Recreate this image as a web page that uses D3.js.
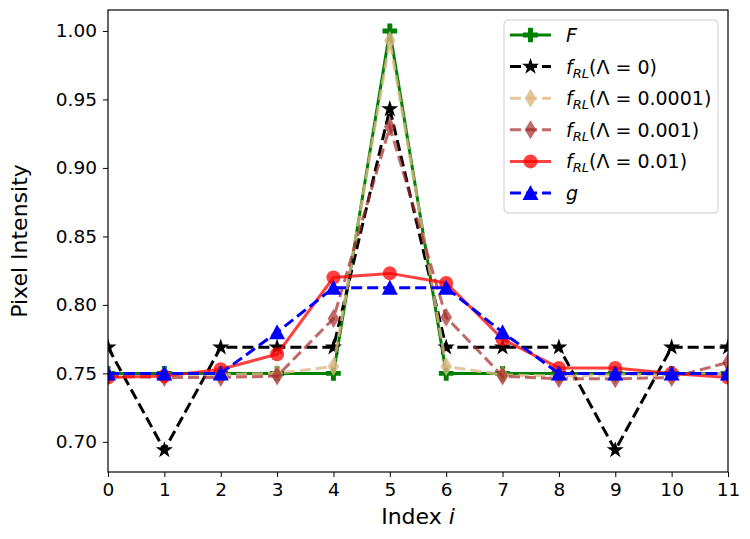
<!DOCTYPE html>
<html>
<head>
<meta charset="utf-8">
<script src="https://cdn.jsdelivr.net/npm/d3@7"></script>
<style>
  body { margin: 0; background: #fff; }
  text { font-family: "DejaVu Sans", sans-serif; }
</style>
</head>
<body>
<svg id="chart" width="750" height="539"></svg>
<script>
// values
const index = [0, 1, 2, 3, 4, 5, 6, 7, 8, 9, 10, 11]
const F     = [0.75, 0.75, 0.75, 0.75, 0.75, 1.0, 0.75, 0.75, 0.75, 0.75, 0.75, 0.75]
const fRL0  = [0.769, 0.694, 0.769, 0.769, 0.769, 0.943, 0.769, 0.769, 0.769, 0.694, 0.769, 0.769]
const fRL4  = [0.749, 0.749, 0.749, 0.750, 0.755, 0.993, 0.755, 0.749, 0.748, 0.749, 0.749, 0.750]
const fRL3  = [0.748, 0.747, 0.747, 0.748, 0.790, 0.930, 0.791, 0.748, 0.746, 0.746, 0.747, 0.758]
const fRL2  = [0.747, 0.748, 0.753, 0.764, 0.820, 0.823, 0.816, 0.775, 0.754, 0.754, 0.750, 0.747]
const g     = [0.75, 0.75, 0.75, 0.780, 0.8125, 0.8125, 0.8125, 0.780, 0.75, 0.75, 0.75, 0.75]
const yTicks = [0.70, 0.75, 0.80, 0.85, 0.90, 0.95, 1.00]

const series = [
  { label: 'F',      values: F,    color: 'green',     alpha: 1,   dash: null, marker: 'plus' },
  { label: '0',      values: fRL0, color: 'black',     alpha: 1,   dash: '11,5', marker: 'star' },
  { label: '0.0001', values: fRL4, color: '#deb887',   alpha: 0.8, dash: '11,5', marker: 'diamond' },
  { label: '0.001',  values: fRL3, color: '#a52a2a',   alpha: 0.7, dash: '11,5', marker: 'diamond' },
  { label: '0.01',   values: fRL2, color: 'red',       alpha: 0.75, dash: null, marker: 'circle' },
  { label: 'g',      values: g,    color: 'blue',      alpha: 1,   dash: '11,5', marker: 'triangle' }
]

const margin = { left: 108, right: 22, top: 10, bottom: 67 }
const W = 750, H = 539

const x = d3.scaleLinear().domain([0, 11]).range([margin.left, W - margin.right])
const y = d3.scaleLinear().domain([0.678, 1.0153]).range([H - margin.bottom, margin.top])

const svg = d3.select('#chart')

function markerPath(type) {
  if (type === 'plus') return d3.symbol(d3.symbolCross, 120)()
  if (type === 'star') return d3.symbol(d3.symbolStar, 90)()
  if (type === 'circle') return d3.symbol(d3.symbolCircle, 155)()
  if (type === 'triangle') return 'M0,-8L8,7L-8,7Z'
  if (type === 'diamond') return 'M0,-9.5L5.8,0L0,9.5L-5.8,0Z'
}

// axes
const xAxis = d3.axisBottom(x).tickValues(index).tickSize(5).tickPadding(6)
const yAxis = d3.axisLeft(y).tickValues(yTicks).tickFormat(d3.format('.2f')).tickSize(5).tickPadding(6)

const plot = svg.append('g')
plot.append('defs').append('clipPath').attr('id', 'clip')
  .append('rect')
  .attr('x', margin.left).attr('y', margin.top)
  .attr('width', W - margin.left - margin.right)
  .attr('height', H - margin.top - margin.bottom)

const line = d3.line().x((d, i) => x(index[i])).y(d => y(d))

series.forEach(s => {
  const grp = plot.append('g').attr('clip-path', 'url(#clip)')
  grp.append('path')
    .datum(s.values)
    .attr('d', line)
    .attr('fill', 'none')
    .attr('stroke', s.color)
    .attr('stroke-opacity', s.alpha)
    .attr('stroke-width', 3)
    .attr('stroke-dasharray', s.dash)
  grp.selectAll('path.m')
    .data(s.values)
    .enter().append('path')
    .attr('class', 'm')
    .attr('d', markerPath(s.marker))
    .attr('transform', (d, i) => `translate(${x(index[i])},${y(d)})`)
    .attr('fill', s.color)
    .attr('fill-opacity', s.alpha)
})

const gx = svg.append('g').attr('transform', `translate(0,${H - margin.bottom})`).call(xAxis)
const gy = svg.append('g').attr('transform', `translate(${margin.left},0)`).call(yAxis)
;[gx, gy].forEach(a => {
  a.selectAll('text').attr('font-size', 18.5).attr('font-family', '"DejaVu Sans", sans-serif').attr('fill', '#000')
  a.selectAll('line').attr('stroke', '#000').attr('stroke-width', 1)
  a.select('.domain').remove()
})

// frame
svg.append('rect')
  .attr('x', margin.left).attr('y', margin.top)
  .attr('width', W - margin.left - margin.right)
  .attr('height', H - margin.top - margin.bottom)
  .attr('fill', 'none').attr('stroke', '#000').attr('stroke-width', 1.2)

// axis labels
const xl = svg.append('text')
  .attr('x', (margin.left + W - margin.right) / 2).attr('y', 524)
  .attr('text-anchor', 'middle').attr('font-size', 22)
xl.append('tspan').text('Index ')
xl.append('tspan').attr('font-style', 'italic').text('i')

svg.append('text')
  .attr('transform', `translate(27,${(margin.top + H - margin.bottom) / 2}) rotate(-90)`)
  .attr('text-anchor', 'middle').attr('font-size', 22)
  .text('Pixel Intensity')

// legend
const leg = svg.append('g')
leg.append('rect')
  .attr('x', 504).attr('y', 20).attr('width', 214).attr('height', 193)
  .attr('rx', 4)
  .attr('fill', '#fff').attr('fill-opacity', 0.8)
  .attr('stroke', '#ccc').attr('stroke-width', 1)

series.forEach((s, i) => {
  const cy = 35 + i * 31.6
  const row = leg.append('g').attr('transform', `translate(0,${cy})`)
  row.append('line')
    .attr('x1', 510).attr('x2', 551).attr('y1', 0).attr('y2', 0)
    .attr('stroke', s.color).attr('stroke-opacity', s.alpha)
    .attr('stroke-width', 3).attr('stroke-dasharray', s.dash)
  row.append('path')
    .attr('d', markerPath(s.marker))
    .attr('transform', 'translate(530.5,0)')
    .attr('fill', s.color).attr('fill-opacity', s.alpha)
  const t = row.append('text').attr('x', 566).attr('y', 7).attr('font-size', 19)
  if (s.label === 'F' || s.label === 'g') {
    t.append('tspan').attr('font-style', 'italic').text(s.label)
  } else {
    t.append('tspan').attr('font-style', 'italic').text('f')
    t.append('tspan').attr('font-style', 'italic').attr('font-size', 13).attr('dy', 4).text('RL')
    t.append('tspan').attr('dy', -4).text('(\u039B = ' + s.label + ')')
  }
})
</script>
</body>
</html>
